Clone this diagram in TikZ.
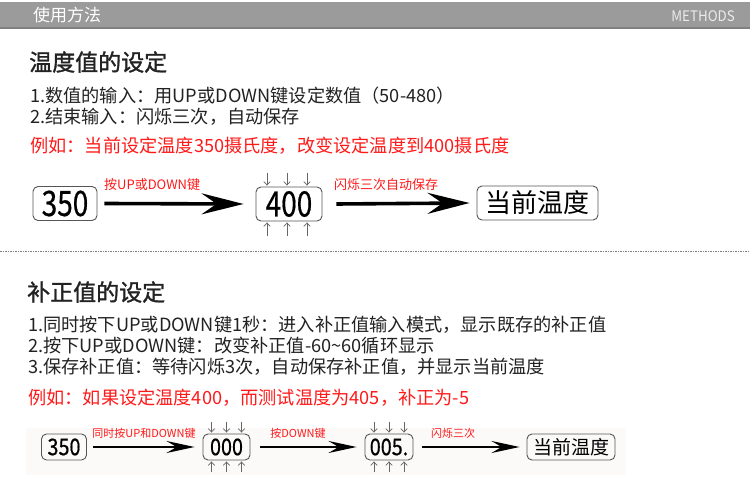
\documentclass[tikz,border=0pt]{standalone}
\usepackage{fontspec}
\setmainfont{Noto Sans CJK SC}
\newfontfamily\ttlfont{Noto Sans CJK SC}[FakeBold=1.3]
\newfontfamily\numfont{Noto Sans CJK SC}[FakeBold=0.6]
\usetikzlibrary{arrows.meta}
\definecolor{hdr}{HTML}{9B9B9B}
\definecolor{hdrline}{HTML}{808080}
\definecolor{txt}{HTML}{222222}
\definecolor{redt}{HTML}{FF1A1A}
\definecolor{boxc}{HTML}{555555}
\definecolor{tick}{HTML}{666666}
\definecolor{bgp}{HTML}{FCF9F9}
\tikzset{
  txtl/.style={anchor=west, inner sep=0pt, text=txt},
  ttl/.style={txtl, font=\ttlfont\fontsize{23}{26}\selectfont},
  body/.style={txtl, font=\fontsize{18.2}{21}\selectfont},
  redl/.style={txtl, text=redt, font=\fontsize{18.2}{21}\selectfont},
  numbox/.style={draw=boxc, rounded corners=5pt, line width=0.9pt, inner sep=0pt, text=black},
  bigbox/.style={numbox, minimum height=34pt},
  smallbox/.style={numbox, minimum height=26pt},
  bigarrow/.style={line width=3.6pt, -{Stealth[length=42pt,width=21pt,inset=15pt]}},
  smallarrow/.style={line width=2.4pt, -{Stealth[length=28pt,width=12pt,inset=10pt]}},
  lab/.style={inner sep=0pt, text=redt},
  tickarr/.style={draw=tick, line width=0.7pt, -{Straight Barb[length=3.5pt,width=6.5pt]}},
}
\newcommand{\bignum}[1]{\numfont\fontsize{35}{36}\selectfont\scalebox{0.8}[1]{#1}}
\newcommand{\smallnum}[1]{\numfont\fontsize{23}{24}\selectfont\scalebox{0.86}[1]{#1}}
\begin{document}
\begin{tikzpicture}[x=1pt,y=-1pt]
\useasboundingbox (0,0) rectangle (750,486);
\fill[white] (0,0) rectangle (750,486);
% header
\fill[hdr] (0,2) rectangle (750,27);
\fill[hdrline] (0,27) rectangle (750,29);
\node[anchor=west, inner sep=0pt, text=white, font=\fontsize{17}{20}\selectfont] (h1) at (33,15) {使用方法};
\node[anchor=east, inner sep=0pt, text=white!92!black, font=\fontsize{14.5}{16}\selectfont] (h2) at (735,16) {\scalebox{0.92}[1]{METHODS}};
% section 1
\node[ttl] (t1) at (29,62) {温度值的设定};
\node[body] (l11) at (30,96) {1.数值的输入：用UP或DOWN键设定数值（50-480）};
\node[body] (l12) at (30,117) {2.结束输入：闪烁三次，自动保存};
\node[redl] (r1) at (30,146) {例如：当前设定温度350摄氏度，改变设定温度到400摄氏度};
% diagram 1
\node[bigbox, minimum width=64pt] (a1) at (65,203.5) {\bignum{350}};
\node[bigbox, minimum width=66pt] (a2) at (289,204) {\bignum{400}};
\node[bigbox, minimum width=121pt, font=\fontsize{26}{28}\selectfont] (a3) at (537.5,203) {当前温度};
\draw[bigarrow] ([xshift=7pt]a1.east) -- ([xshift=-12pt]a2.west);
\draw[bigarrow] ([xshift=14pt]a2.east) -- ([xshift=-7pt]a3.west);
\node[lab, font=\fontsize{13}{15}\selectfont, anchor=west] (b1) at (104,185) {按UP或DOWN键};
\node[lab, font=\fontsize{13}{15}\selectfont, anchor=west] (b2) at (334,185) {闪烁三次自动保存};
\foreach \dx in {-22,-2,18}{
  \draw[tickarr] ([xshift=\dx pt, yshift=14pt]a2.north) -- ([xshift=\dx pt, yshift=1pt]a2.north);
  \draw[tickarr] ([xshift=\dx pt, yshift=-15pt]a2.south) -- ([xshift=\dx pt, yshift=-1pt]a2.south);
}
% separator
\draw[gray, line width=0.8pt, dash pattern=on 1.5pt off 1pt] (0,251) -- (750,251);
% section 2
\node[ttl] (t2) at (27,292) {补正值的设定};
\node[body] (l21) at (28,325) {1.同时按下UP或DOWN键1秒：进入补正值输入模式，显示既存的补正值};
\node[body] (l22) at (28,346) {2.按下UP或DOWN键：改变补正值-60\textasciitilde 60循环显示};
\node[body] (l23) at (28,367) {3.保存补正值：等待闪烁3次，自动保存补正值，并显示当前温度};
\node[redl] (r2) at (28,398) {例如：如果设定温度400，而测试温度为405，补正为-5};
% diagram 2
\fill[bgp] (26,428) rectangle (626,475);
\node[smallbox, minimum width=45pt] (c1) at (64,447) {\smallnum{350}};
\node[smallbox, minimum width=47pt] (c2) at (226.5,447) {\smallnum{000}};
\node[smallbox, minimum width=48pt] (c3) at (389,447) {\smallnum{005.}};
\node[smallbox, minimum width=88pt, font=\fontsize{19}{21}\selectfont] (c4) at (571,447) {当前温度};
\draw[smallarrow] ([xshift=6pt]c1.east) -- ([xshift=-8pt]c2.west);
\draw[smallarrow] ([xshift=10pt]c2.east) -- ([xshift=-8pt]c3.west);
\draw[smallarrow] ([xshift=9pt]c3.east) -- ([xshift=-7pt]c4.west);
\node[lab, font=\fontsize{11}{13}\selectfont] (d1) at (144,433) {同时按UP和DOWN键};
\node[lab, font=\fontsize{11}{13}\selectfont] (d2) at (298,433) {按DOWN键};
\node[lab, font=\fontsize{11}{13}\selectfont] (d3) at (453,433) {闪烁三次};
\foreach \n in {c2,c3}{
  \foreach \dx in {-15,0,15}{
    \draw[tickarr] ([xshift=\dx pt, yshift=12pt]\n.north) -- ([xshift=\dx pt, yshift=1pt]\n.north);
    \draw[tickarr] ([xshift=\dx pt, yshift=-12pt]\n.south) -- ([xshift=\dx pt, yshift=-1pt]\n.south);
  }
}
\end{tikzpicture}
\end{document}
